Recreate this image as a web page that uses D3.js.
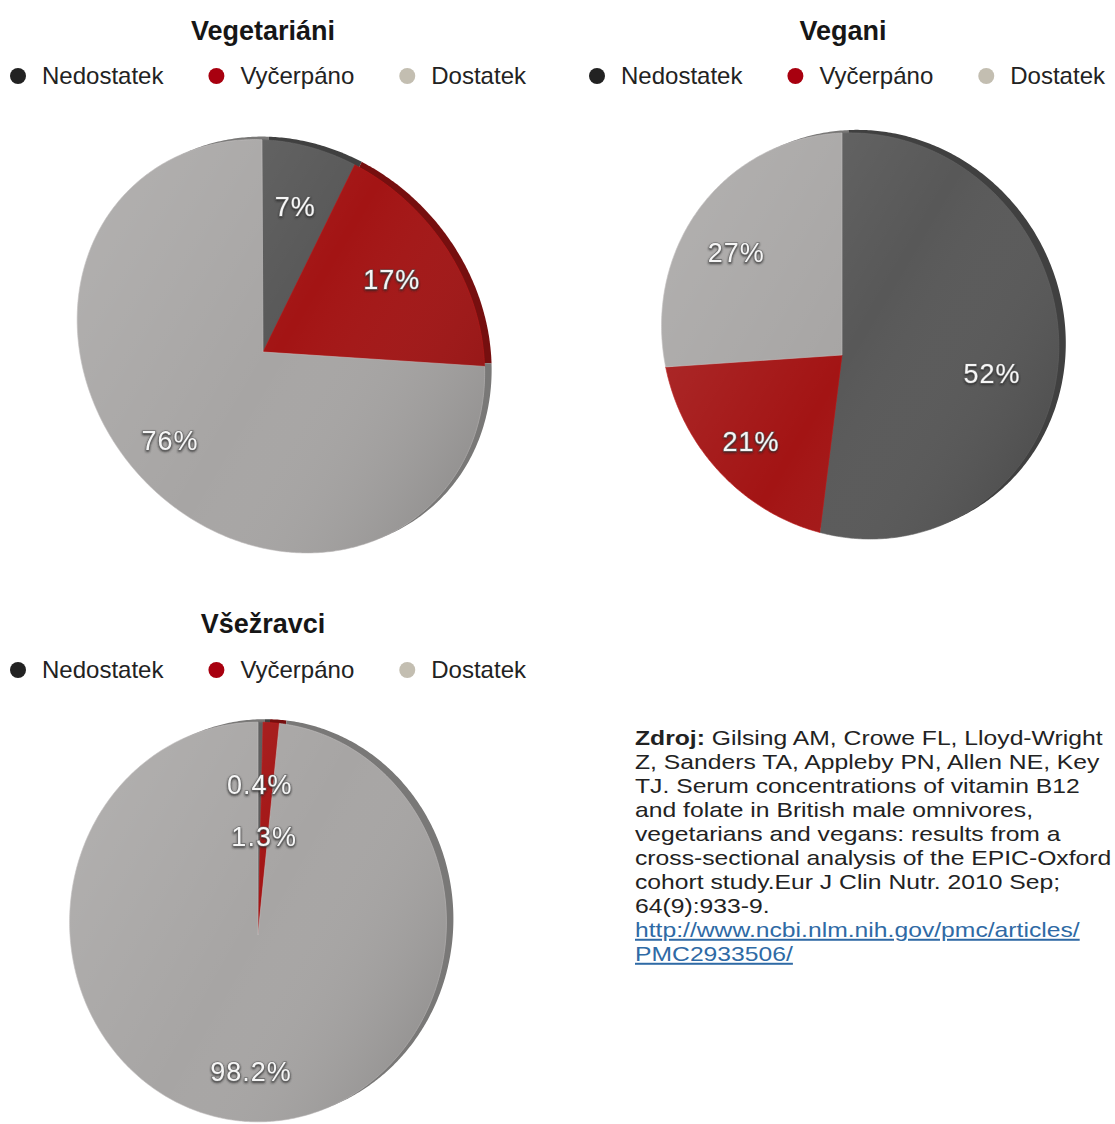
<!DOCTYPE html>
<html>
<head>
<meta charset="utf-8">
<script src="https://cdn.jsdelivr.net/npm/d3@7"></script>
<style>
  body { margin: 0; background: #fff; }
  svg { display: block; }
</style>
</head>
<body>
<div id="chart"></div>
<script>
'use strict';

// data
const categories = ["Nedostatek", "Vyčerpáno", "Dostatek"];
const groups = ["Vegetariáni", "Vegani", "Všežravci"];
const vegetarianValues = [7, 17, 76];
const veganValues = [52, 21, 27];
const omnivoreValues = [0.4, 1.3, 98.2];
const sourceLines = [
  "Gilsing AM, Crowe FL, Lloyd-Wright",
  "Z, Sanders TA, Appleby PN, Allen NE, Key",
  "TJ. Serum concentrations of vitamin B12",
  "and folate in British male omnivores,",
  "vegetarians and vegans: results from a",
  "cross-sectional analysis of the EPIC-Oxford",
  "cohort study.Eur J Clin Nutr. 2010 Sep;",
  "64(9):933-9."
];
const linkLines = ["http://www.ncbi.nlm.nih.gov/pmc/articles/", "PMC2933506/"];

// colours
const faceColors = ["#585858", "#a31414", "#a7a5a4"];
const legendColors = ["#222222", "#a8000f", "#c3beb1"];

const width = 1115, height = 1124;
const font = "'Liberation Sans', Arial, Helvetica, sans-serif";

// each pie is a tilted disc: a projective view of the unit circle
const panels = [
  {title: groups[0], values: vegetarianValues, titleX: 263, titleY: 40, legendX: 10, legendY: 84,
   view: {cx: 263, cy: 352, a: 202, b: 1, d: 26, e: 204, g: -0.088, h: 0.039}},
  {title: groups[1], values: veganValues, titleX: 843, titleY: 40, legendX: 589, legendY: 84,
   view: {cx: 842, cy: 355, a: 196, b: 0, d: 12, e: 200, g: -0.091, h: 0.099}},
  {title: groups[2], values: omnivoreValues, titleX: 263, titleY: 633, legendX: 10, legendY: 678,
   view: {cx: 258, cy: 935, a: 188, b: 0, d: 0, e: 199, g: 0, h: 0.065}}
];

const svg = d3.select("#chart").append("svg")
  .attr("width", width)
  .attr("height", height)
  .style("font-family", font);

const defs = svg.append("defs");
const shade = defs.append("linearGradient")
  .attr("id", "shade")
  .attr("x1", 0).attr("y1", 0.2).attr("x2", 1).attr("y2", 0.8);
shade.append("stop").attr("offset", 0).attr("stop-color", "#fff").attr("stop-opacity", 0.12);
shade.append("stop").attr("offset", 0.5).attr("stop-color", "#fff").attr("stop-opacity", 0);
shade.append("stop").attr("offset", 1).attr("stop-color", "#000").attr("stop-opacity", 0.14);

const glow = defs.append("filter").attr("id", "emboss")
  .attr("x", -0.2).attr("y", -0.3).attr("width", 1.4).attr("height", 1.6);
glow.append("feDropShadow")
  .attr("dx", 0).attr("dy", 1.2).attr("stdDeviation", 0.9)
  .attr("flood-color", "#222").attr("flood-opacity", 0.9);

function projector(v) {
  return function(u, w) {
    const k = 1 + v.g * u + v.h * w;
    return [v.cx + (v.a * u + v.b * w) / k, v.cy + (v.d * u + v.e * w) / k];
  };
}

// points along a slice edge, in unit disc coords
function slicePoints(s, proj) {
  const pts = [proj(0, 0)];
  const steps = Math.max(2, Math.ceil((s.endAngle - s.startAngle) / 0.01));
  for (let i = 0; i <= steps; i++) {
    const t = s.startAngle + (s.endAngle - s.startAngle) * i / steps;
    pts.push(proj(Math.sin(t), -Math.cos(t)));
  }
  return pts;
}

const pie = d3.pie().sort(null).value(d => d);
const line = d3.line();

panels.forEach(function(p) {
  const g = svg.append("g");
  const proj = projector(p.view);
  const slices = pie(p.values);

  // rim of the disc, seen behind the face
  const rimProj = projector(Object.assign({}, p.view, {cx: p.view.cx + 7, cy: p.view.cy - 3}));
  g.append("g").selectAll("path")
    .data(slices)
    .enter()
    .append("path")
      .attr("d", s => line(slicePoints(s, rimProj)) + "Z")
      .attr("fill", (s, i) => d3.color(faceColors[i]).darker(0.9));

  g.append("g").selectAll("path")
    .data(slices)
    .enter()
    .append("path")
      .attr("d", s => line(slicePoints(s, proj)) + "Z")
      .attr("fill", (s, i) => faceColors[i])
      .attr("stroke", (s, i) => d3.color(faceColors[i]).brighter(0.4))
      .attr("stroke-width", 0.6);

  // soft light over the face
  const full = {startAngle: 0, endAngle: 2 * Math.PI};
  g.append("path")
    .attr("d", line(slicePoints(full, proj).slice(1)) + "Z")
    .attr("fill", "url(#shade)");

  // percentage labels
  const placed = [];
  slices.forEach(function(s, i) {
    const mid = (s.startAngle + s.endAngle) / 2;
    let r = 0.72;
    let pos = proj(r * Math.sin(mid), -r * Math.cos(mid));
    placed.forEach(function(q) {
      if (Math.abs(q[0] - pos[0]) < 60 && Math.abs(q[1] - pos[1]) < 40) {
        r = 0.48;
        pos = proj(r * Math.sin(mid), -r * Math.cos(mid));
      }
    });
    placed.push(pos);
    g.append("text")
      .attr("x", pos[0])
      .attr("y", pos[1])
      .attr("text-anchor", "middle")
      .attr("dominant-baseline", "central")
      .attr("font-size", 27)
      .attr("letter-spacing", 1)
      .attr("fill", "#f6f6f6")
      .attr("stroke", "#6a6a6a")
      .attr("stroke-width", 1.2)
      .attr("paint-order", "stroke")
      .attr("filter", "url(#emboss)")
      .text(d3.format("~g")(s.data) + "%");
  });

  // title
  svg.append("text")
    .attr("x", p.titleX)
    .attr("y", p.titleY)
    .attr("text-anchor", "middle")
    .attr("font-size", 27)
    .attr("font-weight", "bold")
    .attr("fill", "#161616")
    .text(p.title);

  // legend row
  let x = p.legendX;
  categories.forEach(function(c, i) {
    svg.append("circle")
      .attr("cx", x + 8)
      .attr("cy", p.legendY - 8)
      .attr("r", 8)
      .attr("fill", legendColors[i]);
    const t = svg.append("text")
      .attr("x", x + 32)
      .attr("y", p.legendY)
      .attr("font-size", 24)
      .attr("fill", "#222")
      .text(c);
    x += 32 + t.node().getComputedTextLength() + 45;
  });
});

// source note
const note = svg.append("g")
  .attr("transform", "translate(635,0) scale(1.235,1)")
  .attr("font-size", 20);

const first = note.append("text").attr("x", 0).attr("y", 745).attr("fill", "#222");
first.append("tspan").attr("font-weight", "bold").text("Zdroj:");
first.append("tspan").text(" " + sourceLines[0]);

note.selectAll("text.line")
  .data(sourceLines.slice(1))
  .enter()
  .append("text")
    .attr("class", "line")
    .attr("x", 0)
    .attr("y", (d, i) => 745 + 24 * (i + 1))
    .attr("fill", "#222")
    .text(d => d);

note.selectAll("text.link")
  .data(linkLines)
  .enter()
  .append("text")
    .attr("class", "link")
    .attr("x", 0)
    .attr("y", (d, i) => 745 + 24 * (sourceLines.length + i))
    .attr("fill", "#2f6aa5")
    .attr("text-decoration", "underline")
    .text(d => d);
</script>
</body>
</html>
